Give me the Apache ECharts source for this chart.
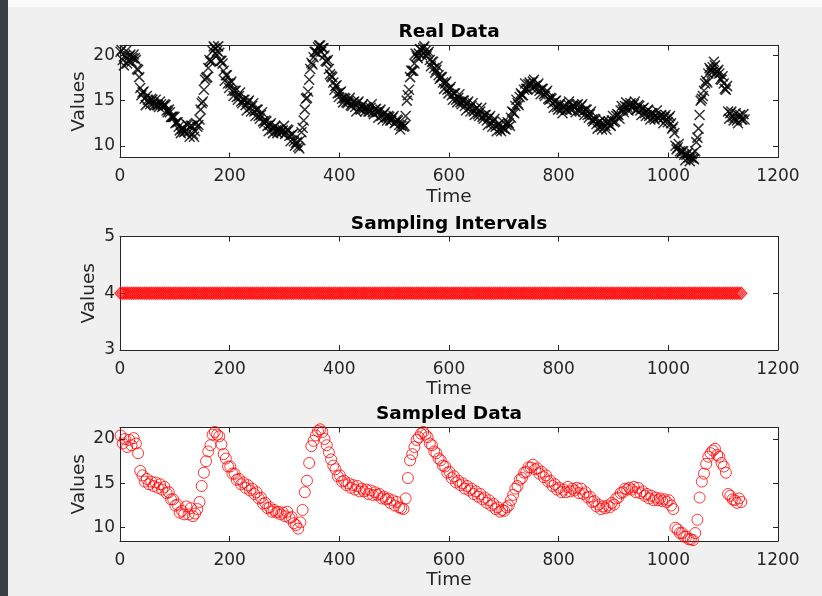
<!DOCTYPE html>
<html>
<head>
<meta charset="utf-8">
<script src="https://cdn.jsdelivr.net/npm/echarts@6/dist/echarts.min.js"></script>
<style>
  html, body { margin: 0; padding: 0; background: #f0f0f0; }
  #main { width: 822px; height: 596px; }
</style>
</head>
<body>
<div id="main"></div>
<script>
// real signal, read every 2 time steps starting at t = 1
const realStart = 1;
const realStep = 2;
const realValues = [
  20.4,20.6,19.5,18.9,20.0,20.5,19.1,19.4,19.9,20.1,19.3,19.7,20.1,19.7,19.5,18.5,18.4,17.6,16.4,15.6,
  15.9,16.0,15.2,14.5,15.5,15.1,14.9,14.6,15.2,15.1,14.7,14.5,15.1,14.5,14.5,14.3,14.9,14.6,14.3,14.4,
  14.6,14.5,13.9,13.7,14.0,13.7,13.2,13.2,13.2,13.2,12.5,12.6,12.6,12.1,11.7,11.4,11.9,11.8,11.5,11.6,
  12.4,12.3,11.5,11.0,12.2,12.2,11.3,11.0,11.6,12.5,12.1,12.3,12.9,14.0,14.7,14.9,16.2,17.3,17.5,17.6,
  18.6,19.5,19.3,19.4,20.5,21.0,20.8,20.2,20.5,21.0,20.3,19.4,19.4,19.1,18.3,17.2,17.8,17.8,16.9,16.4,
  16.9,17.1,16.1,15.5,16.1,16.1,15.4,15.1,15.5,15.9,14.9,14.7,15.1,15.1,14.5,13.9,14.8,15.0,14.2,13.8,
  14.4,14.7,13.8,13.3,14.0,14.0,13.3,13.0,13.4,13.7,12.7,12.5,12.8,12.7,12.2,11.6,12.3,12.5,11.8,11.4,
  12.0,12.2,11.7,11.4,11.8,11.8,11.5,11.5,11.7,12.2,11.3,11.5,11.8,11.7,11.1,10.5,11.2,11.3,10.5,10.0,
  10.3,10.4,9.9,9.7,10.6,11.5,12.0,12.8,14.0,15.2,15.3,16.0,17.3,18.5,19.2,19.0,19.8,20.4,20.4,20.3,
  20.9,21.1,21.1,20.4,20.8,20.8,20.0,19.4,19.3,19.5,18.5,17.9,17.7,17.6,17.0,16.2,16.6,16.7,15.8,15.4,
  15.9,16.0,15.2,14.8,15.3,15.2,14.8,14.7,15.0,15.3,14.5,14.4,14.8,14.9,14.3,13.8,14.7,14.9,14.1,14.0,
  14.4,14.6,14.1,13.8,14.3,14.2,13.8,13.8,14.2,14.6,13.7,13.5,14.0,14.1,13.7,13.1,13.8,14.0,13.3,12.9,
  13.5,13.7,13.2,12.8,13.3,13.2,12.8,12.8,13.1,13.3,12.5,12.6,12.9,12.8,12.3,11.8,12.2,12.5,12.1,12.2,
  13.3,15.0,15.6,16.2,17.6,18.3,18.3,18.3,19.1,20.2,19.9,19.7,20.2,20.7,20.6,20.0,20.8,21.0,20.5,19.9,
  20.2,20.4,19.5,18.8,19.3,19.3,18.6,18.1,18.4,18.8,17.8,17.4,17.6,17.6,17.0,16.3,16.9,17.1,16.2,15.8,
  16.3,16.5,15.6,15.1,15.8,15.8,15.1,14.8,15.3,15.7,14.8,14.6,15.0,15.0,14.4,13.9,14.7,14.9,14.2,13.8,
  14.4,14.7,13.8,13.4,14.1,14.2,13.5,13.3,13.8,14.2,13.2,13.0,13.4,13.4,12.8,12.3,13.1,13.3,12.5,12.1,
  12.7,13.0,12.1,11.6,12.3,12.4,11.8,11.6,12.0,12.6,11.9,11.8,12.3,12.6,12.5,12.2,13.1,13.8,13.7,13.6,
  14.4,15.1,14.7,14.5,15.4,15.8,15.6,15.6,16.2,16.9,16.3,16.3,16.8,17.0,16.8,16.4,17.1,17.3,16.6,16.2,
  16.7,16.9,16.1,15.7,16.3,16.3,15.7,15.5,15.9,16.1,15.2,15.1,15.3,15.2,14.7,14.2,14.9,15.0,14.3,14.0,
  14.5,14.7,14.0,13.6,14.3,14.5,14.0,14.0,14.6,14.9,14.1,14.0,14.4,14.5,14.2,13.7,14.5,14.6,13.9,13.8,
  14.4,14.6,13.8,13.4,14.0,14.0,13.4,13.1,13.5,13.8,12.9,12.7,13.0,12.9,12.4,11.9,12.6,12.7,12.1,11.8,
  12.4,12.8,12.2,11.8,12.5,12.7,12.3,12.2,12.8,13.3,12.6,12.7,13.3,13.5,13.4,13.0,13.9,14.4,14.0,13.7,
  14.4,14.8,14.3,13.9,14.5,14.7,14.3,14.2,14.6,14.9,14.0,14.0,14.5,14.4,13.9,13.4,14.1,14.2,13.6,13.3,
  13.8,14.0,13.3,12.9,13.6,13.6,13.1,12.9,13.4,13.9,13.1,13.0,13.3,13.4,13.0,12.5,13.2,13.4,12.9,12.6,
  13.1,13.3,12.5,11.9,12.1,11.4,10.0,9.6,9.8,10.2,9.4,9.2,9.4,9.4,9.0,8.4,9.0,9.2,8.7,8.3,
  8.7,9.1,8.6,8.5,9.4,10.4,10.9,11.9,13.4,15.0,15.2,15.5,16.1,16.9,17.2,17.0,18.0,18.6,18.4,18.1,
  18.7,19.3,18.9,18.1,18.2,18.4,18.0,17.4,17.3,17.7,16.9,16.3,16.2,16.6,13.8,13.0,13.6,13.8,13.2,12.8,
  13.1,13.6,12.8,12.5,13.3,13.4,12.9,12.9,13.5,12.9
];

// sampling: first sample at t = 1, then one interval per sample
const sampleStart = 1;
const sampleIntervals = [
  4,4,4,4,4,4,4,4,4,4,4,4,4,4,4,4,4,4,4,4,
  4,4,4,4,4,4,4,4,4,4,4,4,4,4,4,4,4,4,4,4,
  4,4,4,4,4,4,4,4,4,4,4,4,4,4,4,4,4,4,4,4,
  4,4,4,4,4,4,4,4,4,4,4,4,4,4,4,4,4,4,4,4,
  4,4,4,4,4,4,4,4,4,4,4,4,4,4,4,4,4,4,4,4,
  4,4,4,4,4,4,4,4,4,4,4,4,4,4,4,4,4,4,4,4,
  4,4,4,4,4,4,4,4,4,4,4,4,4,4,4,4,4,4,4,4,
  4,4,4,4,4,4,4,4,4,4,4,4,4,4,4,4,4,4,4,4,
  4,4,4,4,4,4,4,4,4,4,4,4,4,4,4,4,4,4,4,4,
  4,4,4,4,4,4,4,4,4,4,4,4,4,4,4,4,4,4,4,4,
  4,4,4,4,4,4,4,4,4,4,4,4,4,4,4,4,4,4,4,4,
  4,4,4,4,4,4,4,4,4,4,4,4,4,4,4,4,4,4,4,4,
  4,4,4,4,4,4,4,4,4,4,4,4,4,4,4,4,4,4,4,4,
  4,4,4,4,4,4,4,4,4,4,4,4,4,4,4,4,4,4,4,4,
  4,4,4,4
];
const sampledValues = [
  20.4,19.5,20.0,19.1,19.9,19.3,20.1,19.5,18.4,16.4,
  15.9,15.2,15.5,14.9,15.2,14.7,15.1,14.5,14.9,14.3,
  14.6,13.9,14.0,13.2,13.2,12.5,12.6,11.7,11.9,11.5,
  12.4,11.5,12.2,11.3,11.6,12.1,12.9,14.7,16.2,17.5,
  18.6,19.3,20.5,20.8,20.5,20.3,19.4,18.3,17.8,16.9,
  16.9,16.1,16.1,15.4,15.5,14.9,15.1,14.5,14.8,14.2,
  14.4,13.8,14.0,13.3,13.4,12.7,12.8,12.2,12.3,11.8,
  12.0,11.7,11.8,11.5,11.7,11.3,11.8,11.1,11.2,10.5,
  10.3,9.9,10.6,12.0,14.0,15.3,17.3,19.2,19.8,20.4,
  20.9,21.1,20.8,20.0,19.3,18.5,17.7,17.0,16.6,15.8,
  15.9,15.2,15.3,14.8,15.0,14.5,14.8,14.3,14.7,14.1,
  14.4,14.1,14.3,13.8,14.2,13.7,14.0,13.7,13.8,13.3,
  13.5,13.2,13.3,12.8,13.1,12.5,12.9,12.3,12.2,12.1,
  13.3,15.6,17.6,18.3,19.1,19.9,20.2,20.6,20.8,20.5,
  20.2,19.5,19.3,18.6,18.4,17.8,17.6,17.0,16.9,16.2,
  16.3,15.6,15.8,15.1,15.3,14.8,15.0,14.4,14.7,14.2,
  14.4,13.8,14.1,13.5,13.8,13.2,13.4,12.8,13.1,12.5,
  12.7,12.1,12.3,11.8,12.0,11.9,12.3,12.5,13.1,13.7,
  14.4,14.7,15.4,15.6,16.2,16.3,16.8,16.8,17.1,16.6,
  16.7,16.1,16.3,15.7,15.9,15.2,15.3,14.7,14.9,14.3,
  14.5,14.0,14.3,14.0,14.6,14.1,14.4,14.2,14.5,13.9,
  14.4,13.8,14.0,13.4,13.5,12.9,13.0,12.4,12.6,12.1,
  12.4,12.2,12.5,12.3,12.8,12.6,13.3,13.4,13.9,14.0,
  14.4,14.3,14.5,14.3,14.6,14.0,14.5,13.9,14.1,13.6,
  13.8,13.3,13.6,13.1,13.4,13.1,13.3,13.0,13.2,12.9,
  13.1,12.5,12.1,10.0,9.8,9.4,9.4,9.0,9.0,8.7,
  8.7,8.6,9.4,10.9,13.4,15.2,16.1,17.2,18.0,18.4,
  18.7,18.9,18.2,18.0,17.3,16.9,16.2,13.8,13.6,13.2,
  13.1,12.8,13.3,12.9
];

const timeTicks = { min: 0, max: 1200, interval: 200 };
const realTicks = [10, 15, 20];
const intervalTicks = [3, 4, 5];
const sampledTicks = [10, 15, 20];
const titles = ['Real Data', 'Sampling Intervals', 'Sampled Data'];

// build [time, value] pairs
const realData = realValues.map((v, i) => [realStart + i * realStep, v]);
const sampleTimes = [];
let t = sampleStart;
for (let i = 0; i < sampleIntervals.length; i++) {
  sampleTimes.push(t);
  t += sampleIntervals[i];
}
const intervalData = sampleIntervals.map((v, i) => [sampleTimes[i], v]);
const sampledData = sampledValues.map((v, i) => [sampleTimes[i], v]);

const FONT = 'DejaVu Sans';
const INK = '#262626';

const panels = [
  { top: 45.5, height: 112, min: 8.7, max: 21.1, ticks: realTicks, titleY: 32, nameGap: 31 },
  { top: 236.5, height: 113.5, min: 3, max: 5, ticks: intervalTicks, titleY: 224, nameGap: 21 },
  { top: 427.5, height: 113.5, min: 8.5, max: 21.3, ticks: sampledTicks, titleY: 414, nameGap: 31 }
];

const lineStyle = { color: INK, width: 1 };
const grid = [], xAxis = [], yAxis = [], graphic = [];

panels.forEach((p, i) => {
  grid.push({ left: 120, top: p.top, width: 658, height: p.height,
    show: true, backgroundColor: '#ffffff', borderWidth: 0 });
  xAxis.push({
    gridIndex: i, type: 'value', position: 'bottom',
    min: timeTicks.min, max: timeTicks.max, interval: timeTicks.interval,
    name: 'Time', nameLocation: 'middle', nameGap: 30,
    nameTextStyle: { fontFamily: FONT, fontSize: 18.5, color: INK },
    axisLine: { show: true, onZero: false, lineStyle },
    axisTick: { show: true, inside: true, length: 5, lineStyle },
    axisLabel: { fontFamily: FONT, fontSize: 17, color: INK, margin: 11,
      formatter: v => String(v) },
    splitLine: { show: false }
  });
  xAxis.push({
    gridIndex: i, type: 'value', position: 'top',
    min: timeTicks.min, max: timeTicks.max, interval: timeTicks.interval,
    axisLine: { show: true, onZero: false, lineStyle },
    axisTick: { show: true, inside: true, length: 5, lineStyle },
    axisLabel: { show: false },
    splitLine: { show: false }
  });
  yAxis.push({
    gridIndex: i, type: 'value', position: 'left', min: p.min, max: p.max,
    name: 'Values', nameLocation: 'middle', nameGap: p.nameGap, nameMoveOverlap: false,
    nameTextStyle: { fontFamily: FONT, fontSize: 18.5, color: INK },
    axisLine: { show: true, onZero: false, lineStyle },
    axisTick: { show: true, inside: true, length: 5, lineStyle, customValues: p.ticks },
    axisLabel: { fontFamily: FONT, fontSize: 17, color: INK, margin: 5, customValues: p.ticks },
    splitLine: { show: false }
  });
  yAxis.push({
    gridIndex: i, type: 'value', position: 'right', min: p.min, max: p.max,
    axisLine: { show: true, onZero: false, lineStyle },
    axisTick: { show: true, inside: true, length: 5, lineStyle, customValues: p.ticks },
    axisLabel: { show: false, customValues: p.ticks },
    splitLine: { show: false }
  });
  graphic.push({
    type: 'text', x: 449, y: p.titleY,
    style: { text: titles[i], fill: '#000', font: 'bold 18.5px "DejaVu Sans"',
      textAlign: 'center', textVerticalAlign: 'middle', align: 'center', verticalAlign: 'middle' }
  });
});

// window frame bits around the figure
graphic.push({ type: 'rect', shape: { x: 0, y: 0, width: 8, height: 596 }, style: { fill: '#3b3f40' } });
graphic.push({ type: 'rect', shape: { x: 8, y: 0, width: 814, height: 7 }, style: { fill: '#fbfbfb' } });

const base = { type: 'scatter', silent: true, clip: false, emphasis: { disabled: true } };

const option = {
  animation: false,
  backgroundColor: '#f0f0f0',
  grid, xAxis, yAxis, graphic,
  series: [
    Object.assign({}, base, {
      name: 'Real Data', xAxisIndex: 0, yAxisIndex: 0, data: realData,
      symbol: 'path://M0,0L10,10M10,0L0,10', symbolSize: 10,
      itemStyle: { color: 'none', borderColor: '#000000', borderWidth: 1.5 }
    }),
    Object.assign({}, base, {
      name: 'Sampling Intervals', xAxisIndex: 2, yAxisIndex: 2, data: intervalData,
      symbol: 'diamond', symbolSize: [11, 12],
      itemStyle: { color: 'none', borderColor: '#ff0000', borderWidth: 1.4 }
    }),
    Object.assign({}, base, {
      name: 'Sampled Data', xAxisIndex: 4, yAxisIndex: 4, data: sampledData,
      symbol: 'circle', symbolSize: 11,
      itemStyle: { color: 'none', borderColor: '#ff0000', borderWidth: 1 }
    })
  ]
};

const chart = echarts.init(document.getElementById('main'));
chart.setOption(option);
</script>
</body>
</html>
